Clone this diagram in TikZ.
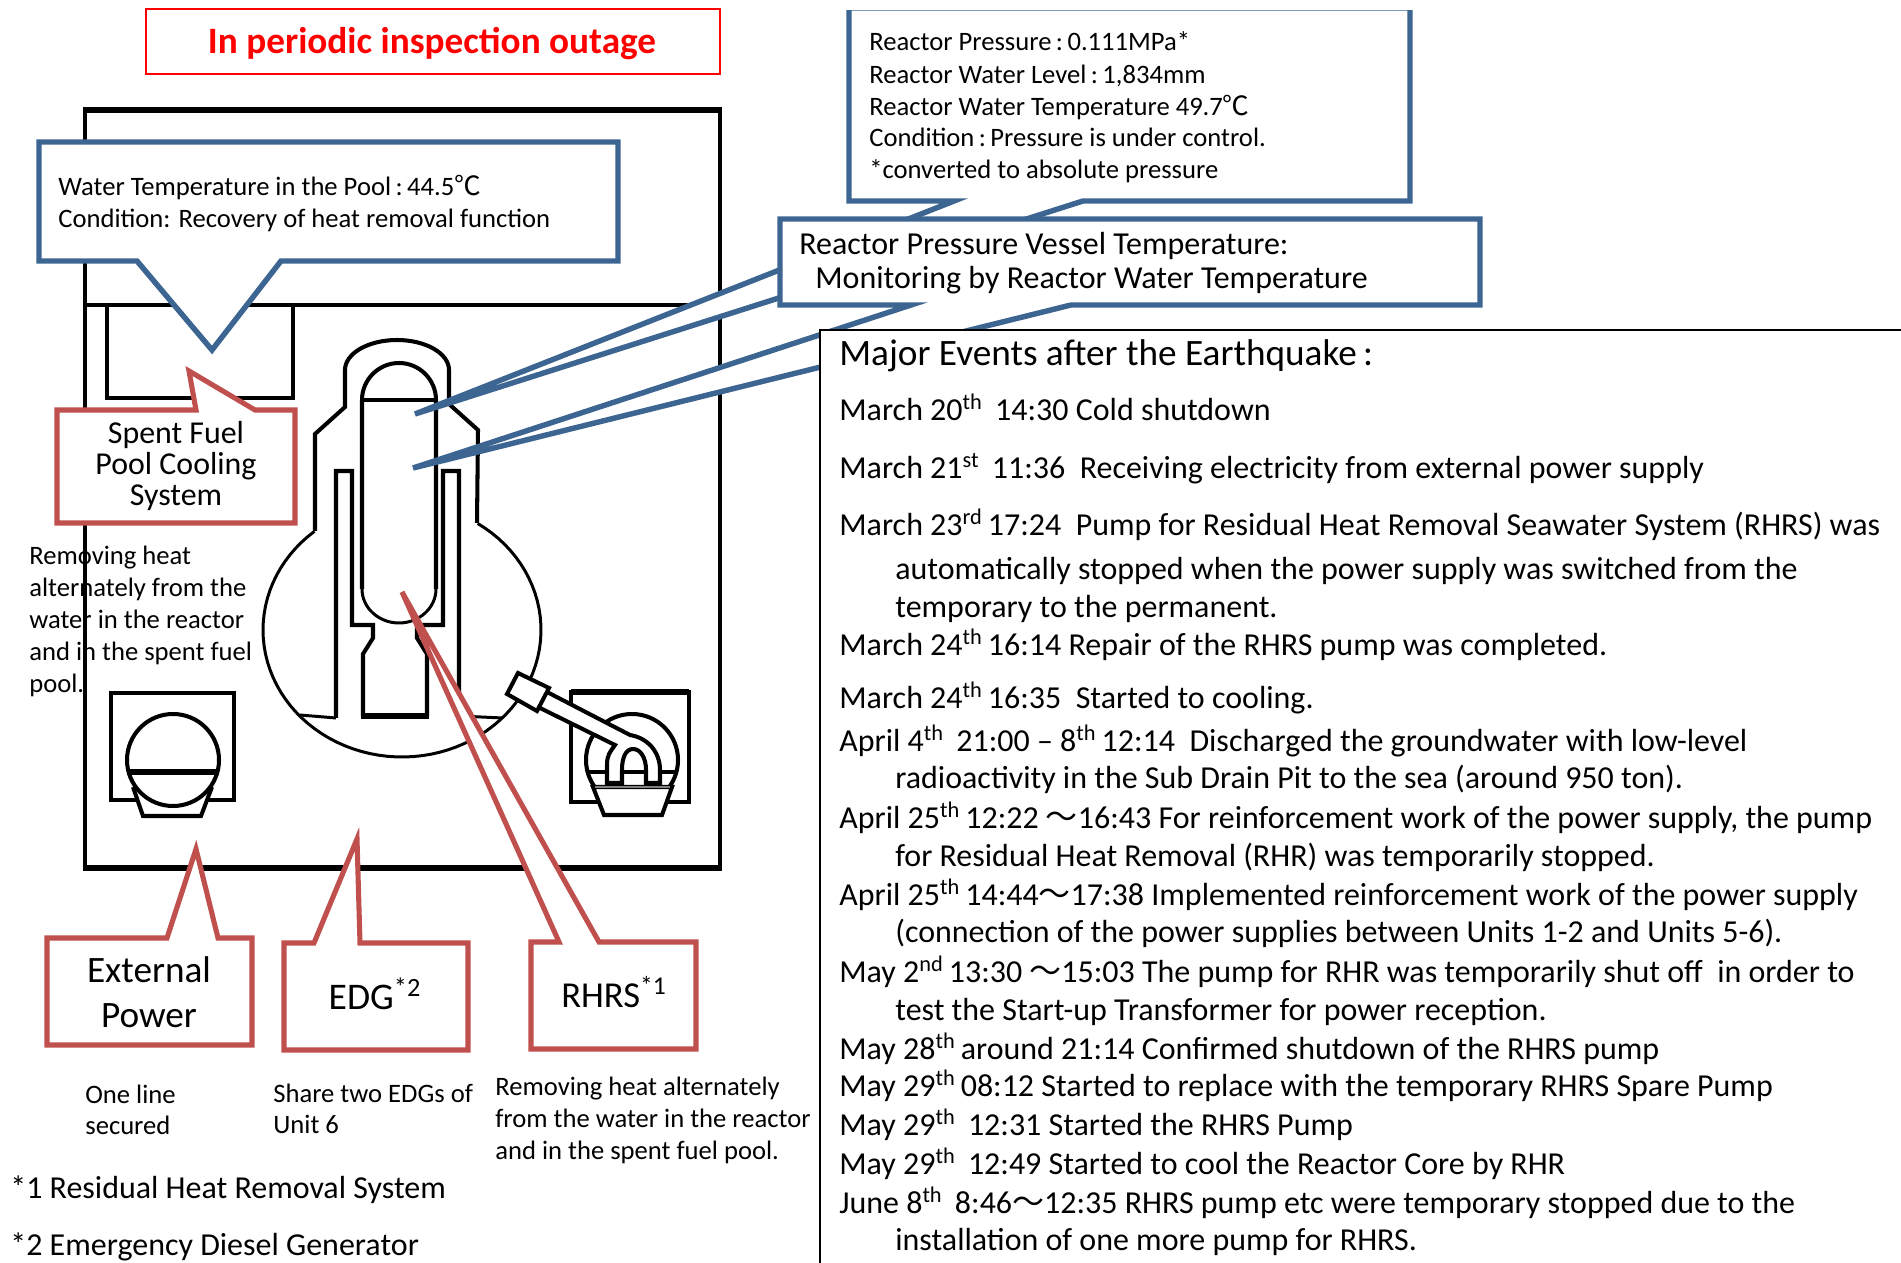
\documentclass[tikz,border=0pt]{standalone}
\usepackage{fontspec}
\setmainfont{Carlito}
\newfontfamily\cjk{Noto Sans CJK JP}
\usetikzlibrary{calc}
\definecolor{calloutblue}{RGB}{61, 101, 146}
\definecolor{calloutred}{RGB}{192, 80, 77}
\newcommand{\degc}{{\cjk ℃}}
\newcommand{\wave}{{\cjk ～}}
\newcommand{\thsup}[1]{\textsuperscript{#1}\kern-1.2pt\relax}
\tikzset{
  wall/.style={draw=black, line width=2.3pt, line join=miter},
  thinwall/.style={draw=black, line width=1.7pt},
  bluecall/.style={draw=calloutblue, fill=white, line width=3.1pt, line join=miter},
  redcall/.style={draw=calloutred, fill=white, line width=2.9pt, line join=miter},
  lbl/.style={inner sep=0pt, anchor=mid west, yshift=-2.7pt, font=\fontsize{15.15}{18}\selectfont},
  evtext/.style={inner sep=0pt, anchor=mid west, yshift=-3.8pt, font=\fontsize{18.2}{20}\selectfont},
  mid/.style 2 args={inner sep=0pt, align=center, font=\fontsize{#1}{#2}\selectfont},
}
\begin{document}
\begin{tikzpicture}[x=0.02cm, y=-0.02cm]
  \useasboundingbox (0, 0) rectangle (1901, 1263);

  % title
  \draw[red, line width=1.2pt] (146, 9) rectangle (720, 74);
  \node[mid={21.2}{24}, text=red] (title) at (432, 44) {\bfseries In periodic inspection outage};

  % building
  \draw[wall] (85, 110) rectangle (720, 868);
  \draw[black, line width=3.4pt] (83, 110) -- (722, 110);
  \draw[black, line width=3.4pt] (83, 868) -- (722, 868);
  \draw[wall] (85, 305) -- (720, 305);
  \draw[wall] (107, 305) rectangle (293, 398);

  % outer vessel with bulb
  \draw[wall] (315, 531) -- (315, 434) -- (345, 407) -- (345, 370)
    .. controls (345, 353.4) and (368.3, 340) .. (397, 340)
    .. controls (425.7, 340) and (449, 353.4) .. (449, 370)
    -- (449, 404) -- (478, 430) -- (477, 523);
  \draw[thinwall] plot[domain=-57:231, samples=80] ({402 + 139*cos(\x)}, {630 + 127*sin(\x)});

  % inner vessel
  \draw[wall] (362, 400) -- (436, 400);
  \draw[wall] (362, 589) -- (362, 400)
    .. controls (362, 379.6) and (378.6, 363) .. (399, 363)
    .. controls (419.4, 363) and (436, 379.6) .. (436, 400) -- (436, 589);
  \draw[thinwall] (362, 589) .. controls (362, 608) and (379, 623) .. (399, 623)
    .. controls (419, 623) and (436, 608) .. (436, 589);

  % shield and pedestal
  \draw[wall] (336, 718) -- (336, 471) -- (352, 471) -- (352, 625) -- (373, 625) -- (373, 638)
    -- (363, 654) -- (363, 716);
  \draw[wall] (459, 718) -- (459, 471) -- (443, 471) -- (443, 625) -- (417, 625) -- (417, 638)
    -- (427, 654) -- (427, 716);
  \draw[black, line width=3.4pt] (361, 716) -- (429, 716);
  \draw[thinwall] (300, 715) -- (336, 718);
  \draw[thinwall] (459, 716) -- (503, 718);

  % left pump
  \draw[thinwall, line width=2.2pt] (111, 693) rectangle (234, 800);
  \fill[white, draw=none] (133, 787) -- (143, 816) -- (201, 816) -- (212, 787) -- cycle;
  \draw[wall] (133, 787) -- (143, 816) -- (201, 816) -- (212, 787);
  \draw[wall] (173, 760) circle [radius=46];
  \draw[black, line width=3.4pt] (127, 772) -- (219, 772);

  % right pump
  \draw[wall] (571, 692) rectangle (689, 802);
  \draw[black, line width=3pt] (571, 692) -- (689, 692);
  \draw[wall] (632, 760) circle [radius=46];
  \draw[wall] (588, 772) -- (676, 772);
  \draw[wall, fill=white] (593, 787) -- (604, 815) -- (662, 815) -- (672, 787) -- cycle;
  \draw[gray, line width=1.5pt] (595, 787) -- (670, 787);
  \draw[wall] (607, 783) -- (622, 783);
  \draw[wall, fill=white] (547, 692) -- (630, 735)
    .. controls (648, 738) and (660, 752) .. (660, 770) -- (660, 783) -- (646, 783) -- (646, 770)
    .. controls (646, 757) and (640, 749) .. (633, 749)
    .. controls (626, 749) and (622, 757) .. (622, 770) -- (622, 783) -- (607, 783) -- (607, 765)
    .. controls (607, 755) and (610, 752) .. (615, 745) -- (538, 707);
  \draw[wall, fill=white] (518, 673) -- (549, 688) -- (537, 711) -- (507, 694) -- cycle;

  % callouts, blue
  \draw[bluecall] (39, 142) -- (618, 142) -- (618, 261) -- (281, 261) -- (212, 350) -- (137, 261) -- (39, 261) -- cycle;
  \draw[bluecall] (849, 8) -- (1410, 8) -- (1410, 201) -- (1083, 201) -- (415, 414) -- (954, 201) -- (849, 201) -- cycle;
  \fill[white] (840, 0) rectangle (1420, 10); % top edge of this box is cut thin
  \draw[bluecall] (780, 219) -- (1480, 219) -- (1480, 305) -- (1071, 305) -- (413, 468) -- (911, 305) -- (780, 305) -- cycle;

  % events panel
  \fill[white] (820, 330) rectangle (1901, 1263);
  \draw[black, line width=1.3pt] (1901, 330) -- (820, 330) -- (820, 1263);

  % callouts, red
  \draw[redcall] (57, 410) -- (196, 410) -- (189, 371) -- (255, 410) -- (295, 410) -- (295, 523) -- (57, 523) -- cycle;
  \draw[redcall] (47, 938) -- (167, 938) -- (196, 849) -- (218, 938) -- (252, 938) -- (252, 1045) -- (47, 1045) -- cycle;
  \draw[redcall] (284, 943) -- (314, 943) -- (357, 839) -- (360, 943) -- (468, 943) -- (468, 1050) -- (284, 1050) -- cycle;
  \draw[redcall] (531, 942) -- (559, 942) -- (402, 592) -- (599, 942) -- (696, 942) -- (696, 1049) -- (531, 1049) -- cycle;

  % callout texts
  \node[lbl] (pool1) at (58, 187) {Water Temperature in the Pool\,:\,44.5\degc};
  \node[lbl] (pool2) at (58, 219) {Condition: Recovery of heat removal function};
  \foreach \y/\txt [count=\i] in {42/{Reactor Pressure\,:\,0.111MPa*}, 75/{Reactor Water Level\,:\,1,834mm},
      107/{Reactor Water Temperature 49.7\degc}, 138/{Condition\,:\,Pressure is under control.},
      170/{*converted to absolute pressure}} {
    \node[lbl] (state\i) at (869, \y) {\txt};
  }
  \node[evtext] (vessel1) at (799, 244) {Reactor Pressure Vessel Temperature:};
  \node[evtext] (vessel2) at (815, 278) {Monitoring by Reactor Water Temperature};

  \node[mid={18.15}{17.5}] (spent) at (176, 466) {Spent Fuel\\Pool Cooling\\System};
  \node[mid={21.2}{25.6}] (extpower) at (149, 992) {External\\Power};
  \node[mid={21.4}{24}] (edg) at (375, 994) {EDG\textsuperscript{*2}};
  \node[mid={20.8}{24}] (rhrs) at (614, 992) {RHRS\textsuperscript{*1}};

  % notes
  \foreach \y/\txt [count=\i] in {556/Removing heat, 588/alternately from the, 620/water in the reactor,
      652/and in the spent fuel, 684/pool.} {
    \node[lbl] (noteleft\i) at (29, \y) {\txt};
  }
  \node[lbl] (onea) at (85, 1095) {One line};
  \node[lbl] (oneb) at (85, 1126) {secured};
  \node[lbl] (sharea) at (273, 1094) {Share two EDGs of};
  \node[lbl] (shareb) at (273, 1125) {Unit 6};
  \node[lbl] (rema) at (495, 1087) {Removing heat alternately};
  \node[lbl] (remb) at (495, 1119) {from the water in the reactor};
  \node[lbl] (remc) at (495, 1151) {and in the spent fuel pool.};
  \node[evtext] (foot1) at (10, 1188) {*1 Residual Heat Removal System};
  \node[evtext] (foot2) at (10, 1245) {*2 Emergency Diesel Generator};

  % events list
  \node[evtext, font=\fontsize{21.2}{24}\selectfont] (evhead) at (839, 355) {Major Events after the Earthquake\,:};
  \foreach \x/\y/\txt [count=\i] in {
      839/410/{March 20\thsup{th}\ \ 14:30 Cold shutdown},
      839/468/{March 21\thsup{st}\ \ 11:36\ \ Receiving electricity from external power supply},
      839/525/{March 23\thsup{rd} 17:24\ \ Pump for Residual Heat Removal Seawater System (RHRS) was},
      895/569/{automatically stopped when the power supply was switched from the},
      895/607/{temporary to the permanent.},
      839/645/{March 24\thsup{th} 16:14 Repair of the RHRS pump was completed.},
      839/698/{March 24\thsup{th} 16:35\ \ Started to cooling.},
      839/741/{April 4\thsup{th}\ \ 21:00 – 8\thsup{th} 12:14\ \ Discharged the groundwater with low-level},
      895/778/{radioactivity in the Sub Drain Pit to the sea (around 950 ton).},
      839/818/{April 25\thsup{th} 12:22 \wave16:43 For reinforcement work of the power supply, the pump},
      895/856/{for Residual Heat Removal (RHR) was temporarily stopped.},
      839/895/{April 25\thsup{th} 14:44\wave17:38 Implemented reinforcement work of the power supply},
      895/932/{(connection of the power supplies between Units 1-2 and Units 5-6).},
      839/972/{May 2\thsup{nd} 13:30 \wave15:03 The pump for RHR was temporarily shut off\ \ in order to},
      895/1010/{test the Start-up Transformer for power reception.},
      839/1049/{May 28\thsup{th} around 21:14 Confirmed shutdown of the RHRS pump},
      839/1086/{May 29\thsup{th} 08:12 Started to replace with the temporary RHRS Spare Pump},
      839/1125/{May 29\thsup{th}\ \ 12:31 Started the RHRS Pump},
      839/1164/{May 29\thsup{th}\ \ 12:49 Started to cool the Reactor Core by RHR},
      839/1203/{June 8\thsup{th}\ \ 8:46\wave12:35 RHRS pump etc were temporary stopped due to the},
      895/1240/{installation of one more pump for RHRS.}} {
    \node[evtext] (ev\i) at (\x, \y) {\txt};
  }
\end{tikzpicture}
\end{document}
